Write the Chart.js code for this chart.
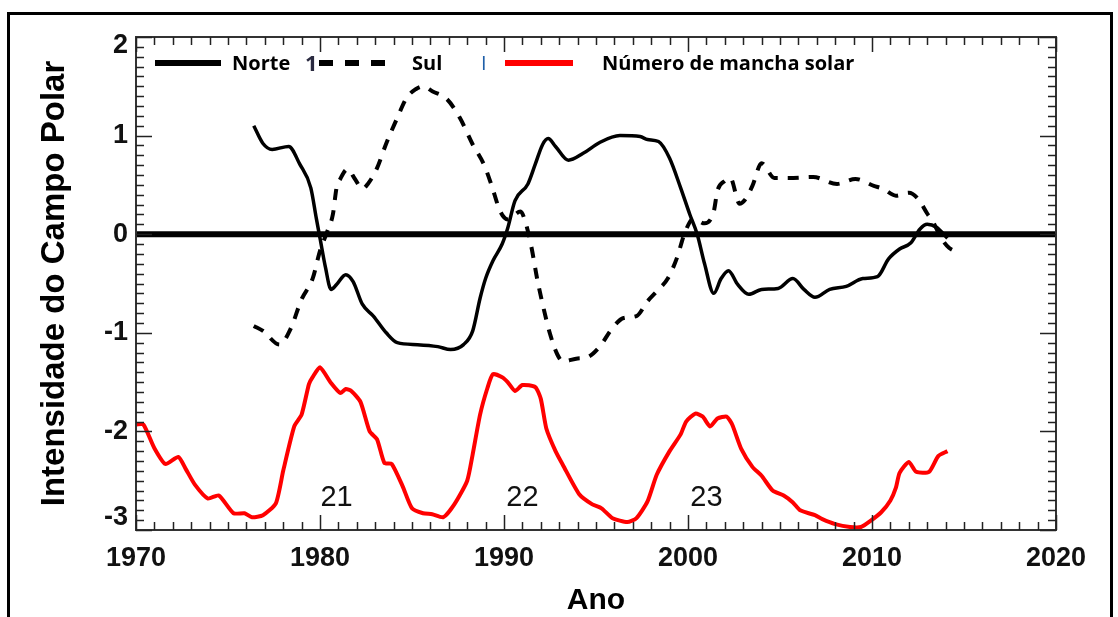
<!DOCTYPE html>
<html><head><meta charset="utf-8">
<script src="https://cdn.jsdelivr.net/npm/chart.js@4.4.1/dist/chart.umd.min.js"></script>
<style>html,body{margin:0;padding:0;background:#fff;overflow:hidden}canvas{display:block}</style>
</head><body>
<canvas id="c" width="1118" height="617"></canvas>
<script>
// ---- Data ----
const yearTicks = [1970, 1980, 1990, 2000, 2010, 2020];
const fieldTicks = [2, 1, 0, -1, -2, -3];

const norteYears = [1976.4,1976.9,1977.4,1978.3,1978.9,1979.5,1979.8,1980.0,1980.3,1980.6,1980.9,1981.4,1981.8,1982.3,1982.9,1983.6,1984.2,1985.3,1986.4,1987.1,1987.8,1988.3,1988.7,1989.0,1989.4,1989.9,1990.2,1990.6,1991.3,1991.7,1992.1,1992.4,1992.8,1993.5,1994.3,1995.2,1996.3,1997.4,1997.8,1998.4,1999.0,1999.6,2000.1,2000.5,2000.9,2001.4,2001.8,2002.2,2002.7,2003.3,2004.0,2004.9,2005.7,2006.3,2006.9,2007.7,2008.6,2009.5,2010.3,2010.9,2011.5,2012.1,2012.6,2013.0,2013.5,2014.1];
const norteValues = [1.10,0.92,0.86,0.89,0.71,0.47,0.16,-0.04,-0.34,-0.56,-0.51,-0.41,-0.48,-0.71,-0.83,-1.00,-1.10,-1.12,-1.14,-1.17,-1.12,-0.98,-0.65,-0.45,-0.27,-0.10,0.06,0.34,0.51,0.71,0.91,0.97,0.89,0.75,0.82,0.93,1.00,0.99,0.96,0.94,0.77,0.47,0.20,0.00,-0.30,-0.60,-0.45,-0.37,-0.51,-0.61,-0.56,-0.55,-0.45,-0.56,-0.64,-0.56,-0.53,-0.45,-0.43,-0.25,-0.15,-0.09,0.05,0.10,0.07,-0.04];

const sulYears = [1976.4,1976.9,1977.8,1978.4,1979.0,1979.6,1980.0,1980.4,1980.7,1980.9,1981.1,1981.5,1981.9,1982.3,1982.6,1983.1,1983.6,1984.2,1984.7,1985.2,1985.6,1986.1,1986.9,1987.6,1988.3,1988.9,1989.3,1989.8,1990.2,1990.9,1991.2,1991.5,1991.8,1992.1,1992.5,1992.9,1993.2,1994.0,1994.5,1995.2,1995.9,1996.5,1997.2,1997.8,1998.3,1998.9,1999.4,1999.8,2000.3,2000.9,2001.4,2001.6,2002.0,2002.3,2002.8,2003.1,2003.5,2004.0,2004.7,2005.5,2006.8,2008.1,2009.1,2010.1,2010.6,2011.3,2012.0,2012.5,2013.0,2013.3,2013.8,2014.2,2014.8];
const sulValues = [-0.93,-0.98,-1.12,-0.96,-0.66,-0.45,-0.17,0.03,0.20,0.47,0.56,0.66,0.56,0.46,0.51,0.67,0.92,1.18,1.38,1.47,1.50,1.45,1.37,1.18,0.91,0.71,0.51,0.23,0.15,0.23,0.10,-0.14,-0.45,-0.71,-1.01,-1.22,-1.29,-1.26,-1.25,-1.14,-0.95,-0.85,-0.83,-0.68,-0.58,-0.45,-0.24,0.00,0.16,0.11,0.23,0.44,0.54,0.57,0.31,0.35,0.49,0.72,0.57,0.57,0.58,0.51,0.56,0.49,0.46,0.39,0.42,0.36,0.21,0.13,-0.05,-0.14,-0.19];

const sunspotYears = [1970.0,1970.4,1971.0,1971.6,1972.3,1972.7,1973.2,1973.9,1974.5,1975.3,1975.9,1976.3,1976.9,1977.6,1978.0,1978.6,1979.0,1979.4,1979.6,1980.0,1980.6,1981.1,1981.4,1981.7,1982.2,1982.7,1983.1,1983.5,1983.9,1984.5,1985.0,1985.6,1986.1,1986.7,1987.3,1988.0,1988.3,1988.7,1989.1,1989.4,1989.9,1990.2,1990.6,1991.0,1991.7,1992.0,1992.3,1992.8,1993.2,1994.1,1994.8,1995.3,1995.9,1996.7,1997.2,1997.8,1998.3,1999.0,1999.6,1999.9,2000.4,2000.8,2001.2,2001.6,2002.1,2002.4,2002.9,2003.5,2004.0,2004.6,2005.2,2005.7,2006.1,2006.9,2007.3,2008.0,2008.8,2009.4,2009.9,2010.5,2011.0,2011.3,2011.5,2012.0,2012.4,2013.1,2013.6,2014.1];
const sunspotValues = [-1.93,-1.93,-2.17,-2.33,-2.26,-2.38,-2.54,-2.68,-2.65,-2.83,-2.83,-2.87,-2.85,-2.73,-2.40,-1.95,-1.83,-1.52,-1.45,-1.35,-1.51,-1.61,-1.57,-1.59,-1.70,-2.00,-2.08,-2.32,-2.33,-2.56,-2.78,-2.83,-2.84,-2.87,-2.74,-2.50,-2.23,-1.83,-1.56,-1.42,-1.45,-1.50,-1.59,-1.53,-1.55,-1.67,-1.97,-2.20,-2.34,-2.64,-2.74,-2.78,-2.88,-2.92,-2.88,-2.71,-2.44,-2.20,-2.03,-1.90,-1.82,-1.85,-1.95,-1.87,-1.85,-1.93,-2.18,-2.36,-2.45,-2.60,-2.65,-2.72,-2.80,-2.85,-2.89,-2.94,-2.97,-2.97,-2.91,-2.82,-2.70,-2.57,-2.42,-2.31,-2.41,-2.41,-2.25,-2.20];

const zeroYears = [1970, 2020];
const zeroValues = [0, 0];

const cycleLabels = ['21', '22', '23'];
const cycleYears = [1980.9, 1991.0, 2001.0];
const cycleLevel = -2.68;

const legendLabels = ['Norte', 'Sul', 'Número de mancha solar'];

const toXY = (xs, ys) => xs.map((x, i) => ({x: x, y: ys[i]}));

// ---- Decorations plugin: frame, inward ticks, y labels, legend, cycle numbers ----
const deco = {
  id: 'deco',
  afterDraw(chart) {
    const ctx = chart.ctx;
    const a = chart.chartArea;
    const xs = chart.scales.x, ys = chart.scales.y;
    ctx.save();
    // outer frame
    ctx.strokeStyle = '#000'; ctx.lineWidth = 3;
    ctx.beginPath();
    ctx.moveTo(8.5, 640); ctx.lineTo(8.5, 13.5); ctx.lineTo(1111.5, 13.5); ctx.lineTo(1111.5, 640);
    ctx.stroke();
    // plot box
    ctx.strokeStyle = '#333'; ctx.lineWidth = 2;
    ctx.strokeRect(a.left, a.top, a.right - a.left, a.bottom - a.top);
    // ticks
    ctx.lineWidth = 1.5; ctx.strokeStyle = '#222';
    ctx.beginPath();
    for (let i = -30; i <= 20; i++) {
      const py = Math.round(ys.getPixelForValue(i / 10)) + 0.5;
      const len = (i % 10 === 0) ? 16 : 8;
      ctx.moveTo(a.left, py); ctx.lineTo(a.left + len, py);
      ctx.moveTo(a.right, py); ctx.lineTo(a.right - len, py);
    }
    for (let yr = 1970; yr <= 2020; yr++) {
      const px = Math.round(xs.getPixelForValue(yr)) + 0.5;
      const len = (yr % 10 === 0) ? 15 : 8;
      ctx.moveTo(px, a.bottom); ctx.lineTo(px, a.bottom - len);
      ctx.moveTo(px, a.top); ctx.lineTo(px, a.top + len);
    }
    ctx.stroke();
    // y tick labels (end labels kept inside the axis extent, as in the original)
    ctx.fillStyle = '#111';
    ctx.font = 'bold 27px "Liberation Sans", Arial, sans-serif';
    ctx.textAlign = 'right'; ctx.textBaseline = 'middle';
    fieldTicks.forEach(v => {
      let py = ys.getPixelForValue(v);
      py = Math.min(Math.max(py, a.top + 9), a.bottom - 12);
      ctx.fillText(String(v), a.left - 8, py);
    });
    // cycle numbers
    ctx.font = '29px "Liberation Sans", Arial, sans-serif';
    ctx.textAlign = 'center';
    cycleLabels.forEach((t, i) => {
      ctx.fillText(t, xs.getPixelForValue(cycleYears[i]), ys.getPixelForValue(cycleLevel));
    });
    // legend
    const ly = 63;
    ctx.lineCap = 'butt';
    ctx.lineWidth = 6;
    ctx.strokeStyle = '#000';
    ctx.beginPath(); ctx.moveTo(155, ly); ctx.lineTo(221, ly); ctx.stroke();
    ctx.setLineDash([14, 12]);
    ctx.beginPath(); ctx.moveTo(319, ly); ctx.lineTo(385, ly); ctx.stroke();
    ctx.setLineDash([]);
    ctx.strokeStyle = '#ff0000';
    ctx.beginPath(); ctx.moveTo(505, ly); ctx.lineTo(573, ly); ctx.stroke();
    ctx.fillStyle = '#000';
    ctx.font = 'bold 20px "Open Sans", sans-serif';
    ctx.textAlign = 'left'; ctx.textBaseline = 'middle';
    ctx.fillText(legendLabels[0], 232, ly + 1);
    ctx.fillText(legendLabels[1], 412, ly + 1);
    ctx.fillText(legendLabels[2], 602, ly + 1);
    ctx.font = 'bold 22px "Open Sans", sans-serif';
    ctx.fillStyle = '#2a2a40';
    ctx.fillText('1', 305, ly + 2);
    ctx.font = '20px "Open Sans", sans-serif';
    ctx.fillStyle = '#1f5fa8';
    ctx.fillText('I', 481, ly + 1);
    ctx.restore();
  }
};

new Chart(document.getElementById('c'), {
  type: 'line',
  data: {
    datasets: [
      {label: 'zero', data: toXY(zeroYears, zeroValues), borderColor: '#000', borderWidth: 6, pointRadius: 0},
      {label: legendLabels[0], data: toXY(norteYears, norteValues), borderColor: '#000', borderWidth: 3.5, pointRadius: 0, cubicInterpolationMode: 'monotone'},
      {label: legendLabels[1], data: toXY(sulYears, sulValues), borderColor: '#000', borderWidth: 4, borderDash: [11, 10], pointRadius: 0, cubicInterpolationMode: 'monotone'},
      {label: legendLabels[2], data: toXY(sunspotYears, sunspotValues), borderColor: '#ff0000', borderWidth: 4, pointRadius: 0, tension: 0.2}
    ]
  },
  options: {
    responsive: false,
    devicePixelRatio: 1,
    animation: false,
    layout: {padding: {left: 0, right: 62, top: 37, bottom: 0}},
    plugins: {legend: {display: false}, tooltip: {enabled: false}},
    scales: {
      x: {
        type: 'linear', min: 1970, max: 2020,
        afterFit(s) { s.height = 87; },
        afterBuildTicks(s) { s.ticks = yearTicks.map(v => ({value: v})); },
        grid: {display: false, drawTicks: false},
        border: {display: false},
        ticks: {color: '#111', padding: 12, maxRotation: 0, callback: v => String(v), font: {family: '"Liberation Sans", Arial, sans-serif', size: 27, weight: 'bold'}},
        title: {display: true, text: 'Ano', color: '#000', padding: {top: 0, bottom: 0}, font: {family: '"Liberation Sans", Arial, sans-serif', size: 30, weight: 'bold', lineHeight: 1.1}}
      },
      y: {
        type: 'linear', min: -3, max: 2,
        afterFit(s) { s.width = 136; },
        grid: {display: false, drawTicks: false},
        border: {display: false},
        ticks: {display: false},
        title: {display: true, text: 'Intensidade do Campo Polar', color: '#000', padding: {top: 35, bottom: 0}, font: {family: '"Liberation Sans", Arial, sans-serif', size: 33, weight: 'bold', lineHeight: 1.2}}
      }
    }
  },
  plugins: [deco]
});
</script>
</body></html>
